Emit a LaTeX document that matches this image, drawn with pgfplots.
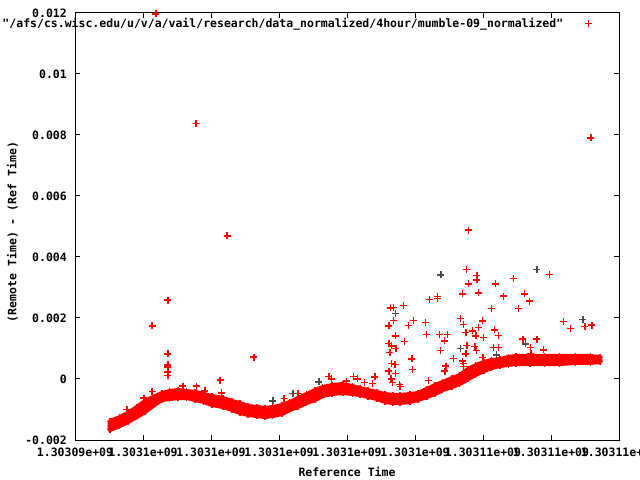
\documentclass[border=0pt]{standalone}
\usepackage{fontspec}
\setmonofont{DejaVu Sans Mono}
\usepackage{pgfplots}
\pgfplotsset{compat=1.18}
\newcommand\gp{\fontsize{11.5bp}{13bp}\selectfont\ttfamily\bfseries}
\definecolor{gpgray}{RGB}{77,77,77}

% x = reference time - 1303094000 s ; dense band: upper / lower edge of the point cloud
\pgfplotstableread{
x up lo
1030 -0.001393 -0.001656
1320 -0.001262 -0.001525
1560 -0.001131 -0.001393
1820 -0.000934 -0.001230
2060 -0.000738 -0.001066
2290 -0.000607 -0.000869
2560 -0.000475 -0.000672
2790 -0.000410 -0.000639
3030 -0.000377 -0.000607
3290 -0.000410 -0.000607
3530 -0.000443 -0.000672
3790 -0.000508 -0.000738
4030 -0.000574 -0.000836
4350 -0.000639 -0.000902
4620 -0.000738 -0.001000
4850 -0.000803 -0.001098
5090 -0.000902 -0.001164
5350 -0.000934 -0.001197
5590 -0.000967 -0.001230
5820 -0.000934 -0.001197
6090 -0.000869 -0.001131
6320 -0.000770 -0.001000
6560 -0.000639 -0.000902
6820 -0.000508 -0.000770
7060 -0.000377 -0.000672
7290 -0.000279 -0.000541
7560 -0.000213 -0.000475
7880 -0.000180 -0.000443
8150 -0.000246 -0.000475
8380 -0.000311 -0.000508
8620 -0.000377 -0.000574
8880 -0.000443 -0.000639
9120 -0.000508 -0.000738
9350 -0.000541 -0.000770
9560 -0.000541 -0.000770
9850 -0.000508 -0.000738
10090 -0.000475 -0.000672
10350 -0.000344 -0.000574
10590 -0.000213 -0.000475
10820 -0.000115 -0.000344
11090 0.000016 -0.000246
11320 0.000115 -0.000148
11560 0.000311 0.000016
11790 0.000443 0.000148
12030 0.000541 0.000279
12260 0.000607 0.000377
12500 0.000639 0.000443
12740 0.000705 0.000475
12970 0.000738 0.000508
13380 0.000738 0.000508
13820 0.000738 0.000508
14260 0.000738 0.000508
14710 0.000738 0.000541
15150 0.000738 0.000541
15440 0.000705 0.000574
}\band

\begin{document}
\begin{tikzpicture}
\useasboundingbox (0,0) rectangle (640bp,480bp);
\begin{axis}[
  at={(75bp,40bp)}, anchor=south west,
  scale only axis, width=544bp, height=427bp,
  xmin=0, xmax=16000, ymin=-0.002, ymax=0.012,
  clip=false,
  xtick={0,2000,4000,6000,8000,10000,12000,14000,16000},
  xticklabels={1.30309e+09,1.3031e+09,1.3031e+09,1.3031e+09,1.3031e+09,1.3031e+09,1.30311e+09,1.30311e+09,1.30311e+09},
  ytick={-0.002,0,0.002,0.004,0.006,0.008,0.01,0.012},
  yticklabels={-0.002,0,0.002,0.004,0.006,0.008,0.01,0.012},
  scaled ticks=false,
  tick pos=both, xticklabel pos=lower, yticklabel pos=left,
  tick align=inside, major tick length=5bp,
  every tick/.style={black, line width=1bp},
  axis line style={line width=1bp},
  /pgf/number format/assume math mode=true,
  every tick label/.append style={font=\gp},
  yticklabel style={anchor=east, inner sep=0pt, xshift=-8bp},
  xticklabel style={anchor=north, inner sep=0pt, yshift=-8bp},
  legend plot pos=right,
  legend image code/.code={\path (-4bp,0bp) (24bp,0bp);
    \draw[#1] plot[only marks] coordinates {(20.5bp,0bp)};},
  legend style={at={(1,1)}, anchor=east, xshift=-26.5bp, yshift=-10.5bp,
    draw=none, fill=none, inner sep=0pt, outer sep=0pt, font=\gp,
    nodes={inner sep=0pt, outer sep=0pt}, column sep=0pt},
]
% dense band of points: outline of the cloud, then edge rows
\addplot[red, fill=red, line width=5bp, line join=round, forget plot] coordinates {
(1030,-0.001393)(1320,-0.001262)(1560,-0.001131)(1820,-0.000934)(2060,-0.000738)
(2290,-0.000607)(2560,-0.000475)(2790,-0.000410)(3030,-0.000377)(3290,-0.000410)
(3530,-0.000443)(3790,-0.000508)(4030,-0.000574)(4350,-0.000639)(4620,-0.000738)
(4850,-0.000803)(5090,-0.000902)(5350,-0.000934)(5590,-0.000967)(5820,-0.000934)
(6090,-0.000869)(6320,-0.000770)(6560,-0.000639)(6820,-0.000508)(7060,-0.000377)
(7290,-0.000279)(7560,-0.000213)(7880,-0.000180)(8150,-0.000246)(8380,-0.000311)
(8620,-0.000377)(8880,-0.000443)(9120,-0.000508)(9350,-0.000541)(9560,-0.000541)
(9850,-0.000508)(10090,-0.000475)(10350,-0.000344)(10590,-0.000213)(10820,-0.000115)
(11090,0.000016)(11320,0.000115)(11560,0.000311)(11790,0.000443)(12030,0.000541)
(12260,0.000607)(12500,0.000639)(12740,0.000705)(12970,0.000738)(13380,0.000738)
(13820,0.000738)(14260,0.000738)(14710,0.000738)(15150,0.000738)(15440,0.000705)
(15440,0.000574)(15150,0.000541)(14710,0.000541)(14260,0.000508)(13820,0.000508)
(13380,0.000508)(12970,0.000508)(12740,0.000475)(12500,0.000443)(12260,0.000377)
(12030,0.000279)(11790,0.000148)(11560,0.000016)(11320,-0.000148)(11090,-0.000246)
(10820,-0.000344)(10590,-0.000475)(10350,-0.000574)(10090,-0.000672)(9850,-0.000738)
(9560,-0.000770)(9350,-0.000770)(9120,-0.000738)(8880,-0.000639)(8620,-0.000574)
(8380,-0.000508)(8150,-0.000475)(7880,-0.000443)(7560,-0.000475)(7290,-0.000541)
(7060,-0.000672)(6820,-0.000770)(6560,-0.000902)(6320,-0.001000)(6090,-0.001131)
(5820,-0.001197)(5590,-0.001230)(5350,-0.001197)(5090,-0.001164)(4850,-0.001098)
(4620,-0.001000)(4350,-0.000902)(4030,-0.000836)(3790,-0.000738)(3530,-0.000672)
(3290,-0.000607)(3030,-0.000607)(2790,-0.000639)(2560,-0.000672)(2290,-0.000869)
(2060,-0.001066)(1820,-0.001230)(1560,-0.001393)(1320,-0.001525)(1030,-0.001656)
} -- cycle;
\addplot[only marks, mark=+, mark size=3.5bp, red, line width=1.2bp, forget plot] table[x=x,y=up]{\band};
\addplot[only marks, mark=+, mark size=3.5bp, red, line width=1.2bp, forget plot] table[x=x,y=lo]{\band};
% scattered points
\addplot[only marks, mark=+, mark size=3.5bp, red, line width=1.2bp] coordinates {
(2382,0.01197)(3559,0.00839)(4471,0.004689)(15176,0.007902)(2735,0.002590)
(2265,0.001738)(2735,0.000820)(2735,0.000459)(2735,0.000393)(2735,0.000230)
(2735,0.000115)(5264,0.000721)(4265,-0.000033)(2265,-0.000410)(2029,-0.000623)
(3176,-0.000230)(3573,-0.000230)(3823,-0.000393)(4309,-0.000459)(6147,-0.000639)
(6559,-0.000469)(7470,0.000075)(7550,0)(7991,-0.000066)(8191,0.000075)
(8314,0)(8508,-0.000108)(8756,-0.000141)(8803,0.000075)(8823,0.000066)
(9235,0.000262)(9235,0.001170)(9235,0.001738)(9279,0.002328)(9361,0.002351)
(9655,0.002416)(9361,0.001911)(9950,0.001925)(10302,0.001859)(9803,0.001761)
(9420,0.001410)(9314,0.001082)(9441,0.001007)(9685,0.001223)(9264,0.000875)
(9911,0.000656)(9920,0.000318)(9314,0.000515)(9412,0.000482)(9420,0.000187)
(9294,0)(9334,-0.000121)(9538,-0.000174)(9559,-0.000246)(10911,0.000426)
(10882,0.000262)(10861,0.001246)(10744,0.000928)(11126,0.000679)(11402,0.000590)
(10391,-0.000056)(11567,0.004885)(11508,0.003597)(11823,0.003387)(11823,0.003246)
(11567,0.003115)(12361,0.003115)(12891,0.003302)(13949,0.003433)(10420,0.002613)
(10655,0.002698)(10655,0.002633)(11391,0.002787)(11861,0.002820)(12596,0.002721)
(13214,0.002787)(13361,0.002557)(12243,0.002318)(13038,0.002318)(11332,0.001990)
(11990,0.001902)(11420,0.001793)(11861,0.001695)(12332,0.001607)(11499,0.001531)
(10332,0.001466)(10726,0.001466)(10949,0.001466)(11793,0.001410)(12449,0.001433)
(11685,0.001574)(12008,0.001367)(13176,0.001311)(13588,0.001311)(11529,0.001105)
(11764,0.001059)(12302,0.001039)(12461,0.001039)(11499,0.000820)(11814,0.000928)
(13391,0.001026)(11999,0.000698)(14361,0.001892)(14567,0.001662)(14999,0.001728)
(15205,0.001770)(13773,0.000951)(13411,0.000843)(11420,0.000515)(11420,0.000403)
(1529,-0.000993)
};
\addlegendentry{"/afs/cs.wisc.edu/u/v/a/vail/research/data\_normalized/4hour/mumble-09\_normalized"}
\addplot[only marks, mark=+, mark size=3.5bp, gpgray, line width=1.2bp, forget plot] coordinates {
(5823,-0.000721)(6411,-0.000469)(7176,-0.000098)(9420,0.002154)(10764,0.003410)
(13588,0.003597)(11332,0.001007)(13244,0.001148)(14940,0.001957)(12402,0.000787)
};
\end{axis}
\node[font=\gp, rotate=90] at (12.5bp,248bp) {(Remote Time) - (Ref Time)};
\node[font=\gp] at (347bp,8bp) {Reference Time};
\end{tikzpicture}
\end{document}
